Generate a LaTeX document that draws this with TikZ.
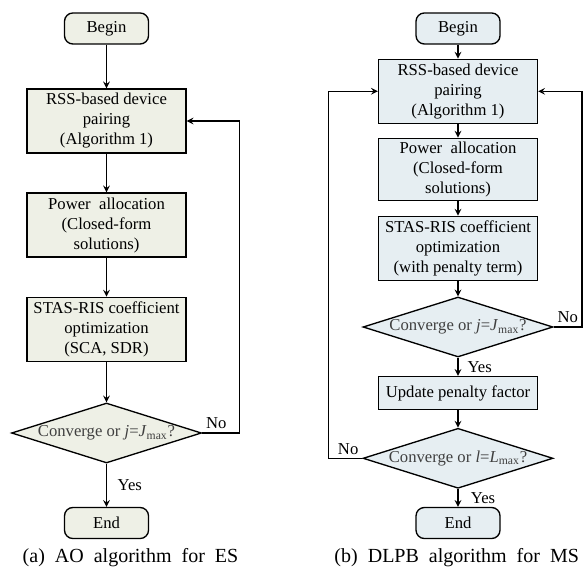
\documentclass[tikz,border=0pt]{standalone}
\usepackage{fontspec}
\setmainfont{Liberation Serif}
\newfontfamily\capfont[WordSpace=2]{Liberation Serif}
\usetikzlibrary{shapes.geometric,arrows}

\definecolor{esfill}{HTML}{EEF0E6}
\definecolor{msfill}{HTML}{E6EEF2}

\tikzset{
  box/.style={draw, rectangle, minimum width=95.4pt, minimum height=38.4pt, inner sep=1pt, align=center},
  term/.style={draw, rectangle, rounded corners=5pt, minimum width=50.4pt, minimum height=18.6pt},
  decision/.style={draw, diamond, aspect=3.17, minimum width=114pt, minimum height=36pt, inner sep=-1pt, text=black!75},
  flow/.style={-stealth, line width=0.8pt},
}

\begin{document}
\begin{tikzpicture}[x=0.6pt,y=-0.6pt, line width=0.8pt]
\useasboundingbox (0,0) rectangle (584,571);

% (a) AO algorithm
\node[term, fill=esfill] (begin1) at (106.5,28.5) {Begin};
\node[box, fill=esfill] (pair1) at (106.5,121) {RSS-based device\\pairing\\(Algorithm 1)};
\node[box, fill=esfill] (power1) at (106.5,225) {Power\ \ allocation\\(Closed-form\\solutions)};
\node[box, fill=esfill] (stas1) at (106.5,329.3) {STAS-RIS coefficient\\optimization\\(SCA, SDR)};
\node[decision, fill=esfill] (conv1) at (106.5,433) {Converge or \textit{j}=\textit{J}\textsubscript{max}?};
\node[term, fill=esfill] (end1) at (106.5,523) {End};
\coordinate (fb1) at (239.3,433);

\draw[flow] (begin1) -- (pair1);
\draw[flow] (pair1) -- (power1);
\draw[flow] (power1) -- (stas1);
\draw[flow] (stas1) -- (conv1);
\draw[flow] (conv1) -- node (yes1) [right=3pt]{Yes} (end1);
\draw[flow] (conv1.east) -- node (no1) [pos=0, above right=0pt, inner sep=2pt]{No} (fb1) |- (pair1.east); % loop back

\node (capa) at (130.5,558) {\capfont\fontsize{12}{14}\selectfont (a) AO algorithm for ES};

% (b) DLPB algorithm
\node[term, fill=msfill] (begin2) at (458,28.5) {Begin};
\node[box, fill=msfill] (pair2) at (458,91.3) {RSS-based device\\pairing\\(Algorithm 1)};
\node[box, fill=msfill, minimum height=37.2pt] (power2) at (458,169.2) {Power\ \ allocation\\(Closed-form\\solutions)};
\node[box, fill=msfill] (stas2) at (458,248.3) {STAS-RIS coefficient\\optimization\\(with penalty term)};
\node[decision, fill=msfill] (conv2) at (458,327) {Converge or \textit{j}=\textit{J}\textsubscript{max}?};
\node[box, fill=msfill, minimum height=19.8pt] (upd2) at (458,393) {Update penalty factor};
\node[decision, fill=msfill] (conv3) at (458,458.3) {Converge or \textit{l}=\textit{L}\textsubscript{max}?};
\node[term, fill=msfill] (end2) at (458,523) {End};
\coordinate (fb2) at (582,327);
\coordinate (fb3) at (328.7,458.3);

\draw[flow] (begin2) -- (pair2);
\draw[flow] (pair2) -- (power2);
\draw[flow] (power2) -- (stas2);
\draw[flow] (stas2) -- (conv2);
\draw[flow] (conv2) -- node (yes2) [right=2pt]{Yes} (upd2);
\draw[flow] (upd2) -- (conv3);
\draw[flow] (conv3) -- node (yes3) [right=4pt]{Yes} (end2);
\draw[flow] (conv2.east) -- node (no2) [pos=0, above right=0pt, inner sep=2pt]{No} (fb2) |- (pair2.east); % inner loop
\draw[flow] (conv3.west) -- node (no3) [pos=0, above left=0pt, inner sep=2pt]{No} (fb3) |- (pair2.west); % outer loop

\node (capb) at (456.7,558) {\capfont\fontsize{12}{14}\selectfont (b) DLPB algorithm for MS};
\end{tikzpicture}
\end{document}
